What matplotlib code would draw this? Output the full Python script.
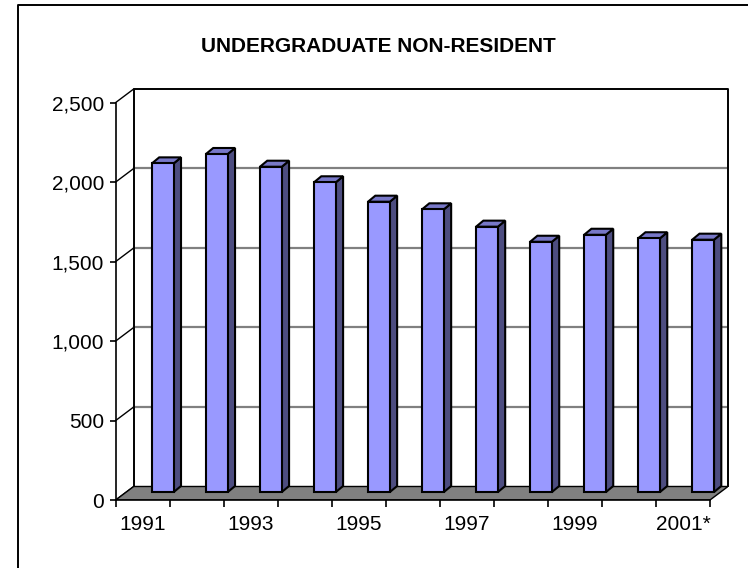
import matplotlib.pyplot as plt
from matplotlib.patches import Polygon
from matplotlib.lines import Line2D

plt.rcParams['font.family'] = ['Liberation Sans', 'DejaVu Sans']

years = ['1991', '1992', '1993', '1994', '1995', '1996', '1997', '1998', '1999', '2000', '2001*']
enrolled = [2067, 2126, 2046, 1948, 1826, 1778, 1669, 1574, 1618, 1596, 1587]
yticks = [0, 500, 1000, 1500, 2000, 2500]
ytick_labels = ['0', '500', '1,000', '1,500', '2,000', '2,500']

n = len(years)
# depth of the fake 3d box (category units / value units)
dx, dy = 0.333, 85
# bar placement inside the box
bx, bw, bb = 0.67, 0.404, 50
sdx, sdy = 0.135, 38

front = '#9999FF'
side = '#4D4D80'
top = '#7878C8'

fig = plt.figure(figsize=(7.48, 5.68), dpi=100)
left_px, right_px = 115.7, 728
bot_px, top_px = 500, 89
ax = fig.add_axes([left_px / 748, 1 - bot_px / 568,
                   (right_px - left_px) / 748, (bot_px - top_px) / 568])
ax.set_xlim(0, n + dx)
ax.set_ylim(0, 2500 + dy)

# back wall gridlines
for v in yticks[1:-1]:
    ax.plot([dx, n + dx], [v + dy, v + dy], color='#808080', lw=1.6, zorder=1)
# diagonal lines from the front axis to the wall
for v in yticks:
    ax.plot([0, dx], [v, v + dy], color='black', lw=1, zorder=2, clip_on=False)
# wall outline
ax.plot([dx, dx, n + dx, n + dx], [dy, 2500 + dy, 2500 + dy, dy],
        color='black', lw=1.4, zorder=2, clip_on=False)

# floor
ax.add_patch(Polygon([(0, 0), (n, 0), (n + dx, dy), (dx, dy)], closed=True,
                     facecolor='#808080', edgecolor='black', lw=1, zorder=2))

# bars
xs = [i + bx for i in range(n)]
ax.bar(xs, enrolled, width=bw, bottom=bb, align='edge', color=front,
       edgecolor='black', linewidth=1.5, zorder=4)
for x, v in zip(xs, enrolled):
    ax.add_patch(Polygon([(x + bw, bb), (x + bw, bb + v), (x + bw + sdx, bb + v + sdy),
                          (x + bw + sdx, bb + sdy)], closed=True,
                         facecolor=side, edgecolor='black', lw=1.5, zorder=3))
    ax.add_patch(Polygon([(x, bb + v), (x + bw, bb + v), (x + bw + sdx, bb + v + sdy),
                          (x + sdx, bb + v + sdy)], closed=True,
                         facecolor=top, edgecolor='black', lw=1.5, zorder=3))

for s in ['top', 'right']:
    ax.spines[s].set_visible(False)
ax.spines['left'].set_bounds(0, 2500)
ax.spines['bottom'].set_bounds(0, n)
ax.spines['left'].set_linewidth(1.2)
ax.spines['bottom'].set_linewidth(1.2)
ax.patch.set_visible(False)

ax.set_yticks(yticks)
ax.set_yticklabels(ytick_labels)
ax.set_xticks(range(n + 1))
ax.set_xticklabels([])
ax.set_xticks([i + 0.5 for i in range(0, n, 2)], minor=True)
ax.set_xticklabels(years[::2], minor=True)
ax.tick_params(axis='y', length=4.5, width=1.2, pad=4, labelsize=15)
ax.tick_params(axis='x', which='major', length=5, width=1.2)
ax.tick_params(axis='x', which='minor', length=0, pad=11, labelsize=15)

fig.text(378 / 748, 1 - 46 / 568, 'UNDERGRADUATE NON-RESIDENT', ha='center', va='center',
         fontsize=15, fontweight='bold')

# chart border, only left and top are inside the image
fig.add_artist(Line2D([18 / 748, 18 / 748, 1.01], [-0.01, 1 - 5 / 568, 1 - 5 / 568],
                      color='black', lw=1.4))

fig.savefig('out.png', dpi=100)
